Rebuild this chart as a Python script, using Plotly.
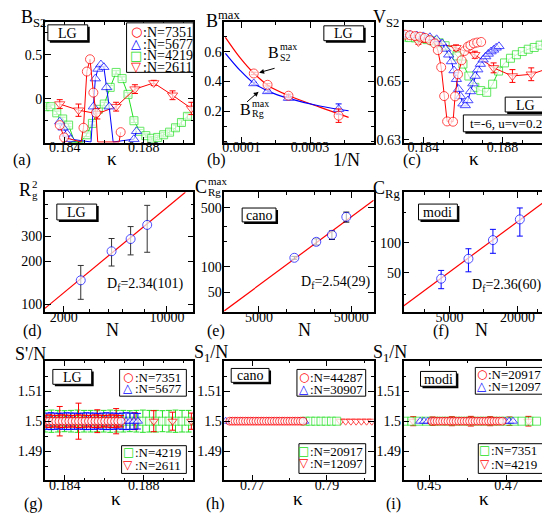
import plotly.graph_objects as go

W, H = 550, 513
FONT = "Liberation Serif"
RED, BLUE, GREEN = "#ff0000", "#0000ff", "#22e022"
BAR_GREY = "#333333"

# ---------------- (a) B_S2 vs kappa, LG ----------------
a_k_7351 = [0.18375, 0.18397, 0.18483, 0.18495, 0.18512, 0.18528, 0.18545, 0.18558, 0.18567, 0.18675, 0.18683]
a_b_7351 = [-0.30, -0.44, -0.60, -0.33, 0.31, 0.45, 0.07, -0.16, -0.60, -0.60, -0.38]
a_k_5677 = [0.18375, 0.18392, 0.18412, 0.18430, 0.18533, 0.18545, 0.18555, 0.18568, 0.18583, 0.18598,
            0.18612, 0.18625, 0.18645, 0.18750, 0.18763]
a_b_5677 = [-0.26, -0.33, -0.40, -0.46, -0.60, -0.09, 0.23, 0.34, 0.39, 0.36, 0.13, -0.09, -0.60, -0.46, -0.37]
a_k_4219 = [0.1830, 0.1833, 0.1836, 0.1839, 0.1842, 0.1845, 0.1848, 0.1851, 0.1854, 0.1857, 0.1860, 0.1863,
            0.1866, 0.1869, 0.1872, 0.1875, 0.1878, 0.1881, 0.1884, 0.1887, 0.1890, 0.1893, 0.1896, 0.1899, 0.1902]
a_b_4219 = [-0.09, -0.09, -0.16, -0.23, -0.30, -0.60, -0.60, -0.41, -0.28, -0.12, -0.06, 0.13,
            0.30, 0.23, 0.05, -0.25, -0.37, -0.42, -0.45, -0.44, -0.41, -0.38, -0.33, -0.27, -0.20]
a_e_4219 = [0.02, 0.02, 0.02, 0.02, 0.02, 0.02, 0.02, 0.02, 0.02, 0.02, 0.02, 0.02,
            0.02, 0.02, 0.02, 0.02, 0.02, 0.02, 0.02, 0.025, 0.025, 0.025, 0.03, 0.03, 0.03]
a_k_2611 = [0.18375, 0.18470, 0.18565, 0.18660, 0.18755, 0.18850, 0.18945, 0.19040]
a_b_2611 = [-0.06, -0.13, -0.17, -0.09, 0.11, 0.18, 0.04, -0.11]
a_e_2611 = [0.05, 0.07, 0.06, 0.05, 0.05, 0.03, 0.05, 0.07]

# ---------------- (b) B^max vs 1/N, LG ----------------
n_lg = [7351, 5677, 4219, 2611]
b_s2 = [0.454, 0.378, 0.305, 0.171]
b_s2_err = [0.008, 0.008, 0.01, 0.045]
b_rg = [0.387, 0.334, 0.289, 0.215]
b_rg_err = [0.008, 0.008, 0.01, 0.035]
b_fit_x = [0.0000534, 0.0000953, 0.000137, 0.000179, 0.000235, 0.000328, 0.000412]
b_fit_s2 = [0.696, 0.562, 0.454, 0.372, 0.308, 0.228, 0.160]
b_fit_rg = [0.589, 0.477, 0.387, 0.334, 0.289, 0.236, 0.204]

# ---------------- (c) V_S2 vs kappa, LG ----------------
c_k_7351 = [0.18308, 0.18333, 0.18358, 0.18383, 0.18408, 0.18433, 0.18458, 0.18473, 0.18490, 0.18505, 0.18520,
            0.18550, 0.18560, 0.18575, 0.18593, 0.18608, 0.18625, 0.18638, 0.18655, 0.18672, 0.18692]
c_v_7351 = [0.6661, 0.6659, 0.6656, 0.6654, 0.6650, 0.6642, 0.6631, 0.6608, 0.6549, 0.6450, 0.6363,
            0.6362, 0.6449, 0.6525, 0.6573, 0.6605, 0.6620, 0.6625, 0.6631, 0.6634, 0.6636]
c_k_5677 = [0.18300, 0.18333, 0.18367, 0.18400, 0.18433, 0.18467, 0.18495, 0.18512, 0.18528, 0.18542,
            0.18555, 0.18567, 0.18578, 0.18588, 0.18600, 0.18612, 0.18625, 0.18638, 0.18650, 0.18662,
            0.18675, 0.18688, 0.18702, 0.18715, 0.18728, 0.18742, 0.18755, 0.18768, 0.18782]
c_v_5677 = [0.6661, 0.6660, 0.6658, 0.6655, 0.6652, 0.6645, 0.6631, 0.6612, 0.6592, 0.6569,
            0.6538, 0.6508, 0.6474, 0.6449, 0.6424, 0.6418, 0.6435, 0.6466, 0.6493, 0.6519,
            0.6541, 0.6560, 0.6575, 0.6586, 0.6595, 0.6603, 0.6609, 0.6616, 0.6621]
c_k_4219 = [0.1830, 0.1833, 0.1836, 0.1839, 0.1842, 0.1845, 0.1848, 0.1851, 0.1854, 0.1857, 0.1860, 0.1863,
            0.1866, 0.1869, 0.1872, 0.1875, 0.1878, 0.1881, 0.1884, 0.1887, 0.1890, 0.1893, 0.1896, 0.1899, 0.1902]
c_v_4219 = [0.6653, 0.6651, 0.6650, 0.6647, 0.6644, 0.6640, 0.6633, 0.6623, 0.6608, 0.6588, 0.6560, 0.6519,
            0.6480, 0.6469, 0.6463, 0.6491, 0.6536, 0.6564, 0.6580, 0.6592, 0.6603, 0.6611, 0.6617, 0.6625, 0.6631]
c_k_2611 = [0.18375, 0.18470, 0.18565, 0.18660, 0.18755, 0.18850, 0.18945, 0.19040]
c_v_2611 = [0.6636, 0.6633, 0.6616, 0.6592, 0.6547, 0.6519, 0.6525, 0.6547]
c_e_2611 = [0.0008, 0.0008, 0.0010, 0.0012, 0.0017, 0.0022, 0.0022, 0.0020]

# ---------------- (d) Rg^2 vs N, LG ----------------
d_n = [2611, 4219, 5677, 7351]
d_rg2 = [147.5, 235.8, 287.4, 361.0]
d_err_up = [40, 54, 64, 134]
d_err_dn = [39, 50, 65, 129]
d_fit_n = [1493, 13320]
d_fit_r = [93.8, 612]

# ---------------- (e) C_Rg^max vs N, cano ----------------
e_n = [12097, 20917, 30907, 44287]
e_c = [127.8, 197.7, 239.3, 391.0]
e_err_up = [5, 17, 26, 54]
e_err_dn = [5, 16, 28, 52]
e_fit_n = [2099, 87700]
e_fit_c = [29.9, 617]

# ---------------- (f) C_Rg vs N, modi ----------------
f_n = [4219, 7351, 12097, 20917]
f_c = [43.6, 69.1, 106.4, 171.7]
f_err_up = [9.2, 18, 30, 52]
f_err_dn = [9, 18, 28, 55]
f_fit_n = [1963, 40270]
f_fit_c = [23.2, 294]

# ---------------- (g) S'/N vs kappa, LG ----------------
g_k_7351 = [0.18305, 0.18322, 0.18338, 0.18355, 0.18371, 0.18388, 0.18404, 0.18421, 0.18437, 0.18454, 0.18470, 0.18487,
            0.18503, 0.18520, 0.18536, 0.18553, 0.18569, 0.18586, 0.18602, 0.18619, 0.18635, 0.18652, 0.18668, 0.18685]
g_s_7351 = [1.5, 1.5, 1.5, 1.5, 1.5, 1.5, 1.5, 1.5, 1.5, 1.5, 1.5, 1.5,
            1.5, 1.5, 1.5, 1.5, 1.5, 1.5, 1.5, 1.5, 1.5, 1.5, 1.5, 1.5]
g_e_7351 = [0.0020, 0.0021, 0.0020, 0.0019, 0.0020, 0.0021, 0.0020, 0.0020, 0.0019, 0.0020, 0.0021, 0.0020,
            0.0020, 0.0019, 0.0020, 0.0021, 0.0020, 0.0020, 0.0019, 0.0020, 0.0021, 0.0020, 0.0020, 0.0019]
g_k_5677 = [0.1831, 0.1833, 0.1835, 0.1837, 0.1839, 0.1841, 0.1843, 0.1845, 0.1847, 0.1849, 0.1851, 0.1853,
            0.1855, 0.1857, 0.1859, 0.1861, 0.1863, 0.1865, 0.1867, 0.1869, 0.1871, 0.1873, 0.1875, 0.1877]
g_s_5677 = [1.5, 1.5, 1.5, 1.5, 1.5, 1.5, 1.5, 1.5, 1.5, 1.5, 1.5, 1.5,
            1.5, 1.5, 1.5, 1.5, 1.5, 1.5, 1.5, 1.5, 1.5, 1.5, 1.5, 1.5]
g_e_5677 = [0.0027, 0.0028, 0.0027, 0.0026, 0.0027, 0.0028, 0.0027, 0.0027, 0.0026, 0.0027, 0.0028, 0.0027,
            0.0027, 0.0026, 0.0027, 0.0028, 0.0027, 0.0027, 0.0026, 0.0027, 0.0028, 0.0027, 0.0027, 0.0026]
g_k_4219 = [0.18300, 0.18333, 0.18366, 0.18399, 0.18432, 0.18465, 0.18498, 0.18531, 0.18564, 0.18597, 0.18630, 0.18663,
            0.18696, 0.18729, 0.18762, 0.18795, 0.18828, 0.18861, 0.18894, 0.18927, 0.18960, 0.18993, 0.19026]
g_s_4219 = [1.5, 1.5, 1.5, 1.5, 1.5, 1.5, 1.5, 1.5, 1.5, 1.5, 1.5, 1.5,
            1.5, 1.5, 1.5, 1.5, 1.5, 1.5, 1.5, 1.5, 1.5, 1.5, 1.5]
g_e_4219 = [0.0036, 0.0037, 0.0036, 0.0035, 0.0036, 0.0037, 0.0036, 0.0036, 0.0035, 0.0036, 0.0037, 0.0036,
            0.0036, 0.0035, 0.0036, 0.0037, 0.0036, 0.0036, 0.0035, 0.0036, 0.0037, 0.0036, 0.0036]
g_k_2611 = [0.18375, 0.18470, 0.18565, 0.18660, 0.18755, 0.18850, 0.18945, 0.19040]
g_s_2611 = [1.5, 1.5, 1.5, 1.5, 1.5, 1.5, 1.5, 1.5]
g_e_2611 = [0.0049, 0.0060, 0.0038, 0.0042, 0.0028, 0.0035, 0.0030, 0.0027]

# ---------------- (h) S_1/N vs kappa, cano ----------------
h_k_44287 = [0.7640, 0.7647, 0.7654, 0.7661, 0.7668, 0.7675, 0.7682, 0.7689, 0.7696, 0.7703, 0.7710, 0.7717,
             0.7724, 0.7731, 0.7738, 0.7745, 0.7752, 0.7759, 0.7766, 0.7773, 0.7780, 0.7787, 0.7794, 0.7801,
             0.7808, 0.7815, 0.7822, 0.7829, 0.7836]
h_s_44287 = [1.5, 1.5, 1.5, 1.5, 1.5, 1.5, 1.5, 1.5, 1.5, 1.5, 1.5, 1.5,
             1.5, 1.5, 1.5, 1.5, 1.5, 1.5, 1.5, 1.5, 1.5, 1.5, 1.5, 1.5,
             1.5, 1.5, 1.5, 1.5, 1.5]
h_k_30907 = [0.7629, 0.7643, 0.7657, 0.7671, 0.7685, 0.7699, 0.7713, 0.7727, 0.7741, 0.7755, 0.7769, 0.7783,
             0.7797, 0.7811, 0.7825, 0.7839]
h_s_30907 = [1.5, 1.5, 1.5, 1.5, 1.5, 1.5, 1.5, 1.5, 1.5, 1.5, 1.5, 1.5, 1.5, 1.5, 1.5, 1.5]
h_k_20917 = [0.7842, 0.7856, 0.7870, 0.7884, 0.7898, 0.7912, 0.7926]
h_s_20917 = [1.5, 1.5, 1.5, 1.5, 1.5, 1.5, 1.5]
h_k_12097 = [0.7936, 0.7950, 0.7964, 0.7978, 0.7992, 0.8006, 0.8020]
h_s_12097 = [1.5, 1.5, 1.5, 1.5, 1.5, 1.5, 1.5]

# ---------------- (i) S_1/N vs kappa, modi ----------------
i_k_20917 = [0.4507, 0.4514, 0.4521, 0.4528, 0.4535, 0.4542, 0.4549, 0.4556, 0.4563, 0.4570, 0.4577, 0.4584,
             0.4591, 0.4598, 0.4605, 0.4612, 0.4619, 0.4626, 0.4633, 0.4640, 0.4647, 0.4654, 0.4661, 0.4668,
             0.4675, 0.4682, 0.4689]
i_s_20917 = [1.5, 1.5, 1.5, 1.5, 1.5, 1.5, 1.5, 1.5, 1.5, 1.5, 1.5, 1.5,
             1.5, 1.5, 1.5, 1.5, 1.5, 1.5, 1.5, 1.5, 1.5, 1.5, 1.5, 1.5,
             1.5, 1.5, 1.5]
i_e_20917 = [0.0008, 0.0008, 0.0008, 0.0008, 0.0008, 0.0008, 0.0008, 0.0008, 0.0008, 0.0008, 0.0008, 0.0008,
             0.0008, 0.0008, 0.0008, 0.0008, 0.0008, 0.0008, 0.0008, 0.0008, 0.0008, 0.0008, 0.0008, 0.0008,
             0.0008, 0.0008, 0.0008]
i_k_12097 = [0.4477, 0.4487, 0.4497, 0.4507, 0.4517, 0.4527, 0.4537, 0.4547, 0.4557, 0.4567, 0.4577, 0.4587,
             0.4597, 0.4607, 0.4617, 0.4627, 0.4637, 0.4647, 0.4657, 0.4667, 0.4677, 0.4687, 0.4697, 0.4707, 0.4717]
i_s_12097 = [1.5, 1.5, 1.5, 1.5, 1.5, 1.5, 1.5, 1.5, 1.5, 1.5, 1.5, 1.5,
             1.5, 1.5, 1.5, 1.5, 1.5, 1.5, 1.5, 1.5, 1.5, 1.5, 1.5, 1.5, 1.5]
i_k_7351 = [0.4436, 0.4455, 0.4474, 0.4493, 0.4512, 0.4531, 0.4550, 0.4569, 0.4588, 0.4607, 0.4626, 0.4645,
            0.4664, 0.4683, 0.4702, 0.4721, 0.4740, 0.4759, 0.4778]
i_s_7351 = [1.5, 1.5, 1.5, 1.5, 1.5, 1.5, 1.5, 1.5, 1.5, 1.5, 1.5, 1.5, 1.5, 1.5, 1.5, 1.5, 1.5, 1.5, 1.5]
i_k_4219 = [0.4459, 0.4509, 0.4559, 0.4608, 0.4658, 0.4708, 0.4757, 0.4807]
i_s_4219 = [1.5, 1.5, 1.5, 1.5, 1.5, 1.5, 1.5, 1.5]
i_e_4219 = [0.0015, 0.0014, 0.0015, 0.0016, 0.0015, 0.0014, 0.0016, 0.0012]

# tick values / labels
tk_kappa = [0.184, 0.188]
tk_kappa_txt = ["0.184", "0.188"]

fig = go.Figure()

cols = [(35, 184), (215, 365), (395, 544)]
rows = [(14, 136), (186, 307), (356, 477)]


def fx(p):
    return p / W


def fy(p):
    return 1 - p / H


def suffix(i):
    return "" if i == 1 else str(i)


def curve(i, xs, ys, color, symbol, err=None, err_dn=None, size=9, mode="lines+markers", lo=None, errcolor=None):
    yy = list(ys)
    sizes = [size] * len(ys)
    ee = list(err) if err is not None else None
    if lo is not None:
        # values below the axis are drawn on the frame, without marker
        for j, v in enumerate(ys):
            if v < lo:
                yy[j] = lo + 0.008
                sizes[j] = 0
                if ee:
                    ee[j] = 0
    tr = go.Scatter(x=xs, y=yy, mode=mode, xaxis="x" + suffix(i), yaxis="y" + suffix(i),
                    line=dict(color=color, width=1),
                    marker=dict(symbol=symbol, size=sizes, color="white", line=dict(color=color, width=1)),
                    hoverinfo="skip")
    if ee is not None:
        ed = dict(type="data", array=ee, color=errcolor or color, thickness=1, width=3, visible=True)
        if err_dn is not None:
            ed["symmetric"] = False
            ed["arrayminus"] = err_dn
        tr.error_y = ed
    fig.add_trace(tr)


def fitline(i, xs, ys, shape="linear", color=RED):
    fig.add_trace(go.Scatter(x=xs, y=ys, mode="lines", xaxis="x" + suffix(i), yaxis="y" + suffix(i),
                             line=dict(color=color, width=1.2, shape=shape), hoverinfo="skip"))


# (a)
curve(1, a_k_4219, a_b_4219, GREEN, "square", err=a_e_4219, size=8, lo=-0.5)
curve(1, a_k_2611, a_b_2611, RED, "triangle-down", err=a_e_2611)
curve(1, a_k_5677, a_b_5677, BLUE, "triangle-up", lo=-0.5)
curve(1, a_k_7351, a_b_7351, RED, "circle", lo=-0.5)

# (b)
inv_lg = [1.0 / n for n in n_lg]
fitline(2, b_fit_x, b_fit_s2, "spline")
fitline(2, b_fit_x, b_fit_rg, "spline", BLUE)
curve(2, inv_lg, b_rg, BLUE, "triangle-up", err=b_rg_err, mode="markers")
curve(2, inv_lg, b_s2, RED, "circle", err=b_s2_err, mode="markers")

# (c)
curve(3, c_k_4219, c_v_4219, GREEN, "square", size=8)
curve(3, c_k_2611, c_v_2611, RED, "triangle-down", err=c_e_2611)
curve(3, c_k_5677, c_v_5677, BLUE, "triangle-up")
curve(3, c_k_7351, c_v_7351, RED, "circle")

# (d)-(f)
fitline(4, d_fit_n, d_fit_r)
curve(4, d_n, d_rg2, BLUE, "circle", err=d_err_up, err_dn=d_err_dn, mode="markers", errcolor=BAR_GREY)
fitline(5, e_fit_n, e_fit_c)
curve(5, e_n, e_c, BLUE, "circle", err=e_err_up, err_dn=e_err_dn, mode="markers", errcolor="black")
fitline(6, f_fit_n, f_fit_c)
curve(6, f_n, f_c, BLUE, "circle", err=f_err_up, err_dn=f_err_dn, mode="markers")

# (g)
curve(7, g_k_4219, g_s_4219, GREEN, "square", err=g_e_4219, size=8, mode="markers")
curve(7, g_k_2611, g_s_2611, RED, "triangle-down", err=g_e_2611, size=8, mode="markers")
curve(7, g_k_5677, g_s_5677, BLUE, "triangle-up", err=g_e_5677, size=8, mode="markers")
curve(7, g_k_7351, g_s_7351, RED, "circle", err=g_e_7351, size=8, mode="markers")

# (h)
curve(8, h_k_12097, h_s_12097, RED, "triangle-down", size=8, mode="markers")
curve(8, h_k_20917, h_s_20917, GREEN, "square", size=8, mode="markers")
curve(8, h_k_30907, h_s_30907, BLUE, "triangle-up", size=8, mode="markers")
curve(8, h_k_44287, h_s_44287, RED, "circle", size=8, mode="markers")

# (i)
curve(9, i_k_4219, i_s_4219, RED, "triangle-down", err=i_e_4219, size=8, mode="markers")
curve(9, i_k_7351, i_s_7351, GREEN, "square", size=8, mode="markers")
curve(9, i_k_12097, i_s_12097, BLUE, "triangle-up", size=8, mode="markers")
curve(9, i_k_20917, i_s_20917, RED, "circle", err=i_e_20917, size=8, mode="markers")


def axis(dom, rng, anchor, tv, tt, minor, typ="linear", standoff=0):
    d = dict(domain=dom, range=rng, anchor=anchor, type=typ, showline=True, linecolor="black",
             linewidth=1.5, mirror="ticks", ticks="inside", ticklen=6, tickwidth=1, tickcolor="black",
             showgrid=False, zeroline=False, tickmode="array", tickvals=tv, ticktext=tt,
             ticklabelstandoff=standoff,
             tickfont=dict(family=FONT, size=14, color="black"))
    m = dict(ticks="inside", ticklen=3, tickwidth=1, tickcolor="black", showgrid=False)
    m.update(minor)
    d["minor"] = m
    return d


layout_axes = {}
specs = [
    # x settings, y settings
    (dict(rng=[0.183, 0.1905], tv=tk_kappa, tt=tk_kappa_txt, minor=dict(dtick=0.001, tick0=0.184)),
     dict(rng=[-0.5, 0.876], tv=[0, 0.5], tt=["0", "0.5"], minor=dict(dtick=0.25, tick0=0))),
    (dict(rng=[0.00005, 0.000485], tv=[0.0001, 0.0003], tt=["0.0001", "0.0003"], minor=dict(dtick=0.0001, tick0=0)),
     dict(rng=[-0.01, 0.8], tv=[0.2, 0.4, 0.6], tt=["0.2", "0.4", "0.6"], minor=dict(dtick=0.1, tick0=0))),
    (dict(rng=[0.183, 0.1905], tv=tk_kappa, tt=tk_kappa_txt, minor=dict(dtick=0.001, tick0=0.184)),
     dict(rng=[0.629, 0.6705], tv=[0.63, 0.65], tt=["0.63", "0.65"], minor=dict(tickmode="array", tickvals=[0.64, 0.66]))),
    (dict(rng=[3.174, 4.1784], tv=[2000, 10000], tt=["2000", "10000"],
          minor=dict(tickmode="array", tickvals=[3000, 4000, 5000, 7000]), typ="log"),
     dict(rng=[1.9465, 2.787], tv=[100, 200, 300], tt=["100", "200", "300"],
          minor=dict(tickmode="array", tickvals=[400, 500]), typ="log")),
    (dict(rng=[3.322, 4.943], tv=[5000, 50000], tt=["5000", "50000"],
          minor=dict(tickmode="array", tickvals=[10000, 20000, 30000]), typ="log"),
     dict(rng=[1.463, 2.885], tv=[50, 100, 500], tt=["50", "100", "500"],
          minor=dict(tickmode="array", tickvals=[200, 300]), typ="log")),
    (dict(rng=[3.293, 4.605], tv=[5000, 20000], tt=["5000", "20000"],
          minor=dict(tickmode="array", tickvals=[3000, 10000, 30000]), typ="log"),
     dict(rng=[1.305, 2.508], tv=[50, 100], tt=["50", "100"],
          minor=dict(tickmode="array", tickvals=[30, 200]), typ="log")),
    (dict(rng=[0.183, 0.1905], tv=tk_kappa, tt=tk_kappa_txt, minor=dict(dtick=0.001, tick0=0.184)),
     dict(rng=[1.4803, 1.5202], tv=[1.49, 1.5, 1.51], tt=["1.49", "1.5", "1.51"], minor=dict(dtick=0.005, tick0=1.49))),
    (dict(rng=[0.7625, 0.8025], tv=[0.77, 0.79], tt=["0.77", "0.79"], minor=dict(dtick=0.01, tick0=0.77)),
     dict(rng=[1.4803, 1.5202], tv=[1.49, 1.5, 1.51], tt=["1.49", "1.5", "1.51"], minor=dict(dtick=0.005, tick0=1.49))),
    (dict(rng=[0.4434, 0.4818], tv=[0.45, 0.47], tt=["0.45", "0.47"], minor=dict(dtick=0.01, tick0=0.45)),
     dict(rng=[1.4803, 1.5202], tv=[1.49, 1.5, 1.51], tt=["1.49", "1.5", "1.51"], minor=dict(dtick=0.005, tick0=1.49))),
]
for k, (xs, ys) in enumerate(specs):
    i = k + 1
    c, r = k % 3, k // 3
    xdom = [cols[c][0] / W, cols[c][1] / W]
    ydom = [1 - rows[r][1] / H, 1 - rows[r][0] / H]
    layout_axes["xaxis" + suffix(i)] = axis(xdom, xs["rng"], "y" + suffix(i), xs["tv"], xs["tt"], xs["minor"],
                                             xs.get("typ", "linear"), standoff=-9)
    layout_axes["yaxis" + suffix(i)] = axis(ydom, ys["rng"], "x" + suffix(i), ys["tv"], ys["tt"], ys["minor"],
                                             ys.get("typ", "linear"), standoff=-2)

annotations = []
shapes = []


def label(px, py, s, size=14, xanchor="center", family=FONT, color="black"):
    annotations.append(dict(x=fx(px), y=fy(py), xref="paper", yref="paper", text=s, showarrow=False,
                            xanchor=xanchor, yanchor="middle",
                            font=dict(family=family, size=size, color=color)))


def tagbox(x0, y0, x1, y1, s, size=14):
    shapes.append(dict(type="rect", xref="paper", yref="paper", x0=fx(x0 + 2), x1=fx(x1 + 2),
                       y0=fy(y1 + 2), y1=fy(y0 + 2), fillcolor="black", line=dict(width=0)))
    shapes.append(dict(type="rect", xref="paper", yref="paper", x0=fx(x0), x1=fx(x1),
                       y0=fy(y1), y1=fy(y0), fillcolor="white", line=dict(color="black", width=1)))
    label((x0 + x1) / 2, (y0 + y1) / 2 + 0.5, s, size)


def legbox(x0, y0, x1, y1, sx, tx, items, size=13):
    shapes.append(dict(type="rect", xref="paper", yref="paper", x0=fx(x0), x1=fx(x1),
                       y0=fy(y1), y1=fy(y0), fillcolor="white", line=dict(color="black", width=1)))
    for py, sym, col, txt in items:
        label(sx, py, sym, size - 1, family="DejaVu Sans", color=col)
        label(tx, py + 0.5, txt, size, xanchor="left")


def stacked(px, py, base, sup, sub, size=18, off=13, small=11):
    label(px, py, base, size, xanchor="left")
    if sup:
        label(px + off, py - 6, sup, small, xanchor="left")
    if sub:
        label(px + off, py + 5, sub, small, xanchor="left")


# axis titles
label(9, 11, "B<sub>S2</sub>", 18, xanchor="left")
label(195, 12, "B<sup>max</sup>", 18, xanchor="left")
label(362, 11, "V<sub>S2</sub>", 18, xanchor="left")
stacked(7, 184, "R", "2", "g", off=13)
stacked(184, 181, "C", "max", "Rg", off=13)
label(362, 183, "C<sub>Rg</sub>", 18, xanchor="left")
label(3, 349, "S'/N", 18, xanchor="left")
label(183, 349, "S<sub>1</sub>/N", 18, xanchor="left")
label(362, 349, "S<sub>1</sub>/N", 18, xanchor="left")

for px, py in [(102, 152), (466, 152), (106, 495), (289, 495), (476, 495)]:
    label(px, py, "κ", 19)
for px, py in [(103, 325), (296, 325), (473, 325)]:
    label(px, py, "N", 18)
label(338, 153, "1/N", 18)

for px, py, s in [(12, 153, "(a)"), (207, 153, "(b)"), (403, 153, "(c)"),
                  (23, 326, "(d)"), (207, 326, "(e)"), (433, 326, "(f)"),
                  (24, 501, "(g)"), (206, 501, "(h)"), (385, 501, "(i)")]:
    label(px, py, s, 16)

# tag boxes
tagbox(38, 17, 78, 33, "LG")
tagbox(315, 18, 355, 33, "LG")
tagbox(497, 90, 537, 105, "LG")
tagbox(455, 108, 541, 125, "t=-6, u=v=0.2", 13)
tagbox(47, 198, 87, 214, "LG")
tagbox(233, 202, 267, 216, "cano")
tagbox(410, 198, 449, 214, "modi")
tagbox(43, 365, 82, 380, "LG")
tagbox(222, 364, 260, 378, "cano")
tagbox(412, 367, 448, 382, "modi")

# legends
legbox(117, 15, 184, 65, 126.5, 131.5,
       [(24, "○", RED, ":N=7351"), (36, "△", BLUE, ":N=5677"),
        (47.7, "□", GREEN, ":N=4219"), (59.3, "▽", RED, ":N=2611")], size=14)
legbox(110, 365, 177, 392, 118.5, 123, [(372.7, "○", RED, ":N=7351"), (384, "△", BLUE, ":N=5677")])
legbox(112, 442, 177, 470, 118.5, 123, [(448.5, "□", GREEN, ":N=4219"), (461.5, "▽", RED, ":N=2611")])
legbox(288, 365, 357, 392, 295, 299.5, [(372.7, "○", RED, ":N=44287"), (385, "△", BLUE, ":N=30907")])
legbox(290, 440, 357, 470, 295, 299.5, [(447.3, "□", GREEN, ":N=20917"), (459.3, "▽", RED, ":N=12097")])
legbox(467, 363, 535, 390, 473.3, 478, [(370, "○", RED, ":N=20917"), (381.7, "△", BLUE, ":N=12097")])
legbox(470, 440, 535, 470, 476.5, 481, [(446.7, "□", GREEN, ":N=7351"), (460, "▽", RED, ":N=4219")])

# D_f values
label(95, 279, "D<sub>f</sub>=2.34(101)", 14, xanchor="left")
label(290, 277, "D<sub>f</sub>=2.54(29)", 14, xanchor="left")
label(462, 280, "D<sub>f</sub>=2.36(60)", 14, xanchor="left")

# (b) curve labels with arrows
stacked(257, 45, "B", "max", "S2", size=16, off=12, small=10)
stacked(229, 102, "B", "max", "Rg", size=16, off=12, small=10)
for hx, hy, tx, ty in [(250, 65.3, 267, 60.5), (249.5, 84.5, 236.5, 96)]:
    annotations.append(dict(x=fx(hx), y=fy(hy), xref="paper", yref="paper", text="", showarrow=True,
                            ax=tx - hx, ay=ty - hy, arrowhead=2, arrowsize=1, arrowwidth=1,
                            arrowcolor="black"))

fig.update_layout(width=W, height=H, margin=dict(l=0, r=0, t=0, b=0), paper_bgcolor="white",
                  plot_bgcolor="white", showlegend=False, annotations=annotations, shapes=shapes,
                  **layout_axes)

fig.write_html("out.html")
